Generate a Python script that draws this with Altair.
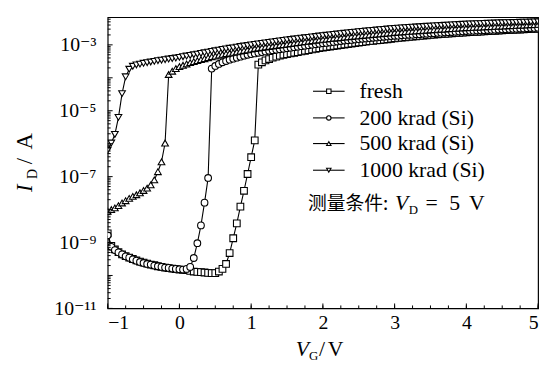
import altair as alt
import pandas as pd

# gate-voltage sweep (V), step 0.05 V
V = [round(-1 + 0.05 * i, 2) for i in range(121)]

# log10(I_D / A)
log_fresh = [
    -8.72, -9.10, -9.21, -9.29, -9.36, -9.41, -9.46, -9.50, -9.54, -9.58,
    -9.61, -9.64, -9.67, -9.69, -9.72, -9.74, -9.76, -9.78, -9.79, -9.81,
    -9.82, -9.83, -9.84, -9.86, -9.88, -9.89, -9.90, -9.91, -9.92, -9.93,
    -9.93, -9.88, -9.80, -9.65, -9.32, -8.87, -8.42, -7.91, -7.43, -6.92,
    -6.41, -5.90, -3.60, -3.53, -3.47, -3.43, -3.39, -3.36, -3.33, -3.30,
    -3.28, -3.26, -3.24, -3.22, -3.20, -3.18, -3.16, -3.14, -3.12, -3.10,
    -3.08, -3.065, -3.05, -3.035, -3.02, -3.005, -2.99, -2.975, -2.96, -2.945,
    -2.93, -2.92, -2.905, -2.89, -2.88, -2.865, -2.855, -2.84, -2.83, -2.815,
    -2.80, -2.79, -2.78, -2.77, -2.76, -2.75, -2.74, -2.73, -2.72, -2.71,
    -2.70, -2.69, -2.68, -2.675, -2.665, -2.66, -2.65, -2.645, -2.635, -2.63,
    -2.62, -2.615, -2.61, -2.605, -2.60, -2.59, -2.585, -2.58, -2.575, -2.565,
    -2.56, -2.555, -2.55, -2.545, -2.54, -2.535, -2.53, -2.525, -2.52, -2.515,
    -2.51,
]
log_200 = [
    -8.78, -9.13, -9.23, -9.30, -9.36, -9.42, -9.46, -9.51, -9.55, -9.59,
    -9.62, -9.65, -9.67, -9.70, -9.72, -9.74, -9.76, -9.77, -9.79, -9.80,
    -9.81, -9.82, -9.80, -9.74, -9.47, -9.02, -8.48, -7.79, -7.04, -3.72,
    -3.64, -3.58, -3.53, -3.49, -3.45, -3.42, -3.39, -3.36, -3.33, -3.30,
    -3.28, -3.26, -3.24, -3.22, -3.20, -3.18, -3.165, -3.15, -3.135, -3.12,
    -3.10, -3.085, -3.07, -3.055, -3.04, -3.025, -3.01, -2.995, -2.98, -2.965,
    -2.95, -2.94, -2.925, -2.91, -2.90, -2.885, -2.87, -2.86, -2.85, -2.835,
    -2.825, -2.815, -2.805, -2.795, -2.785, -2.775, -2.765, -2.755, -2.745, -2.735,
    -2.725, -2.72, -2.71, -2.70, -2.695, -2.69, -2.68, -2.675, -2.665, -2.66,
    -2.65, -2.645, -2.635, -2.63, -2.62, -2.615, -2.61, -2.60, -2.595, -2.59,
    -2.58, -2.575, -2.57, -2.565, -2.56, -2.555, -2.55, -2.545, -2.54, -2.535,
    -2.53, -2.525, -2.52, -2.515, -2.51, -2.505, -2.50, -2.495, -2.49, -2.485,
    -2.48,
]
log_500 = [
    -8.05, -8.00, -7.95, -7.88, -7.80, -7.73, -7.66, -7.60, -7.55, -7.49,
    -7.42, -7.35, -7.25, -7.10, -6.85, -6.55, -5.98, -3.90, -3.80, -3.72,
    -3.66, -3.62, -3.58, -3.54, -3.51, -3.48, -3.45, -3.42, -3.39, -3.36,
    -3.34, -3.315, -3.29, -3.27, -3.25, -3.23, -3.21, -3.19, -3.17, -3.15,
    -3.13, -3.11, -3.095, -3.08, -3.065, -3.05, -3.035, -3.02, -3.005, -2.99,
    -2.975, -2.96, -2.945, -2.93, -2.915, -2.90, -2.89, -2.875, -2.86, -2.85,
    -2.835, -2.825, -2.81, -2.80, -2.79, -2.78, -2.765, -2.755, -2.745, -2.735,
    -2.725, -2.715, -2.705, -2.695, -2.685, -2.675, -2.665, -2.655, -2.645, -2.635,
    -2.625, -2.615, -2.61, -2.60, -2.59, -2.585, -2.575, -2.57, -2.56, -2.555,
    -2.545, -2.54, -2.53, -2.525, -2.52, -2.51, -2.505, -2.50, -2.49, -2.485,
    -2.48, -2.475, -2.47, -2.465, -2.46, -2.455, -2.45, -2.445, -2.44, -2.435,
    -2.43, -2.425, -2.42, -2.415, -2.41, -2.405, -2.40, -2.395, -2.39, -2.385,
    -2.38,
]
log_1000 = [
    -6.20, -5.98, -5.72, -5.20, -4.48, -3.97, -3.74, -3.65, -3.61, -3.585,
    -3.56, -3.54, -3.52, -3.50, -3.48, -3.465, -3.45, -3.43, -3.415, -3.40,
    -3.38, -3.36, -3.34, -3.32, -3.30, -3.28, -3.26, -3.24, -3.22, -3.20,
    -3.18, -3.16, -3.14, -3.125, -3.105, -3.09, -3.07, -3.05, -3.035, -3.02,
    -3.00, -2.985, -2.97, -2.955, -2.94, -2.925, -2.91, -2.895, -2.88, -2.865,
    -2.85, -2.837, -2.824, -2.811, -2.798, -2.785, -2.772, -2.759, -2.746, -2.733,
    -2.72, -2.708, -2.696, -2.684, -2.672, -2.66, -2.648, -2.636, -2.624, -2.612,
    -2.60, -2.59, -2.58, -2.57, -2.56, -2.55, -2.54, -2.53, -2.52, -2.51,
    -2.50, -2.493, -2.486, -2.479, -2.472, -2.465, -2.458, -2.451, -2.444, -2.437,
    -2.43, -2.424, -2.418, -2.412, -2.406, -2.40, -2.394, -2.388, -2.382, -2.376,
    -2.37, -2.366, -2.362, -2.358, -2.354, -2.35, -2.346, -2.342, -2.338, -2.334,
    -2.33, -2.327, -2.324, -2.321, -2.318, -2.315, -2.312, -2.309, -2.306, -2.303,
    -2.30,
]

series_names = ["fresh", "200 krad (Si)", "500 krad (Si)", "1000 krad (Si)"]
series_logs = [log_fresh, log_200, log_500, log_1000]
shapes = ["square", "circle", "triangle-up", "triangle-down"]

x_label_values = [-1, 0, 1, 2, 3, 4, 5]
y_label_values = [1e-11, 1e-9, 1e-7, 1e-5, 1e-3]
y_label_texts = ["10\u207b\u00b9\u00b9", "10\u207b\u2079", "10\u207b\u2077", "10\u207b\u2075", "10\u207b\u00b3"]

X_DOMAIN = [-1, 5]
Y_DOMAIN = [1e-11, 6.9e-3]

W, H = 436, 295
SERIF = "'Liberation Serif', 'Times New Roman', 'DejaVu Serif', serif"

xs = alt.Scale(domain=X_DOMAIN, nice=False, zero=False)
ys = alt.Scale(type="log", domain=Y_DOMAIN, nice=False)

frames = []
for name, logs in zip(series_names, series_logs):
    assert len(logs) == len(V)
    frames.append(pd.DataFrame({"V": V, "I": [10 ** v for v in logs], "series": name}))
df = pd.concat(frames, ignore_index=True)

label_expr = " : ".join(
    f"datum.value < {v * 3:.0e} ? '{t}'" for v, t in zip(y_label_values[:-1], y_label_texts[:-1])
) + f" : '{y_label_texts[-1]}'"

x_axis = alt.Axis(values=x_label_values, ticks=False, domain=False, grid=False,
                  labelFont=SERIF, labelFontSize=20, labelPadding=4, labelColor="black", title=None)
y_axis = alt.Axis(values=y_label_values, ticks=False, domain=False, grid=False,
                  labelFont=SERIF, labelFontSize=20, labelPadding=12, labelColor="black",
                  labelExpr=label_expr, title=None)


def X(field):
    return alt.X(field, scale=xs, axis=x_axis)


def Y(field):
    return alt.Y(field, scale=ys, axis=y_axis)


layers = []
for name, shape in zip(series_names, shapes):
    sub = alt.Chart(df).transform_filter(alt.datum.series == name)
    layers.append(sub.mark_line(color="black", strokeWidth=1.1, clip=True).encode(
        x=X("V:Q"), y=Y("I:Q"), order="V:Q"))
    layers.append(sub.mark_point(shape=shape, size=46, fill="white", stroke="black",
                                 strokeWidth=1.1, opacity=1, fillOpacity=1, clip=True).encode(
        x=X("V:Q"), y=Y("I:Q")))

# inward ticks
x_minor = [round(-1 + 0.25 * k, 2) for k in range(25)]
x_major = [v for v in x_minor if float(v).is_integer()]
y_major = [10.0 ** e for e in range(-11, -2)]
y_minor = [m * 10.0 ** e for e in range(-11, -2) for m in range(2, 10) if m * 10.0 ** e <= Y_DOMAIN[1]]

layers.append(alt.Chart(pd.DataFrame({"V": x_minor})).mark_rule(color="black", strokeWidth=1).encode(
    x=X("V:Q"), y=alt.value(H), y2=alt.value(H - 3)))
layers.append(alt.Chart(pd.DataFrame({"V": x_major})).mark_rule(color="black", strokeWidth=1).encode(
    x=X("V:Q"), y=alt.value(H), y2=alt.value(H - 5)))
layers.append(alt.Chart(pd.DataFrame({"I": y_minor})).mark_rule(color="black", strokeWidth=1).encode(
    y=Y("I:Q"), x=alt.value(0), x2=alt.value(3)))
layers.append(alt.Chart(pd.DataFrame({"I": y_major})).mark_rule(color="black", strokeWidth=1).encode(
    y=Y("I:Q"), x=alt.value(0), x2=alt.value(5)))

one = pd.DataFrame({"a": [0]})


def txt(s, x, y, size=22, font=SERIF, style="normal", align="left", baseline="alphabetic", angle=0):
    return alt.Chart(one).mark_text(text=s, font=font, fontSize=size, fontStyle=style, align=align,
                                    baseline=baseline, angle=angle, color="black").encode(
        x=alt.value(x), y=alt.value(y))


# legend
leg_y = [75, 102, 128, 155]
for name, shape, yy in zip(series_names, shapes, leg_y):
    layers.append(alt.Chart(one).mark_rule(color="black", strokeWidth=1.1).encode(
        x=alt.value(208), x2=alt.value(240), y=alt.value(yy)))
    layers.append(alt.Chart(one).mark_point(shape=shape, size=20, fill="white", stroke="black",
                                            strokeWidth=1.1, opacity=1, fillOpacity=1).encode(
        x=alt.value(224), y=alt.value(yy)))
    layers.append(txt(name, 255, yy + 7))

# measurement condition
layers.append(txt("测量条件:", 203, 195, size=19, font="Noto Sans CJK SC"))
layers.append(txt("V", 291, 195, style="italic"))
layers.append(txt("D", 305, 199, size=13))
layers.append(txt("=", 322, 195))
layers.append(txt("5", 346, 195))
layers.append(txt("V", 366, 195))

# x title  V_G / V
layers.append(txt("V", 204, 343, style="italic", align="right"))
layers.append(txt("G", 204, 347, size=13))
layers.append(txt("/", 214, 343))
layers.append(txt("V", 223, 343))

# y title  I_D / A (rotated)
layers.append(txt("I", -77, 177, size=23, style="italic", angle=270))
layers.append(txt("D", -72, 164, size=14, angle=270))
layers.append(txt("/", -77, 149, size=23, angle=270))
layers.append(txt("A", -77, 134, size=23, angle=270))

chart = alt.layer(*layers).properties(
    width=W, height=H,
    padding={"left": 101, "top": 7, "right": 6, "bottom": 56},
    autosize=alt.AutoSizeParams(type="none"),
    background="white",
).configure_view(stroke="black", strokeWidth=1.2)

chart.save("out.html", embed_options={"renderer": "svg", "actions": False})
